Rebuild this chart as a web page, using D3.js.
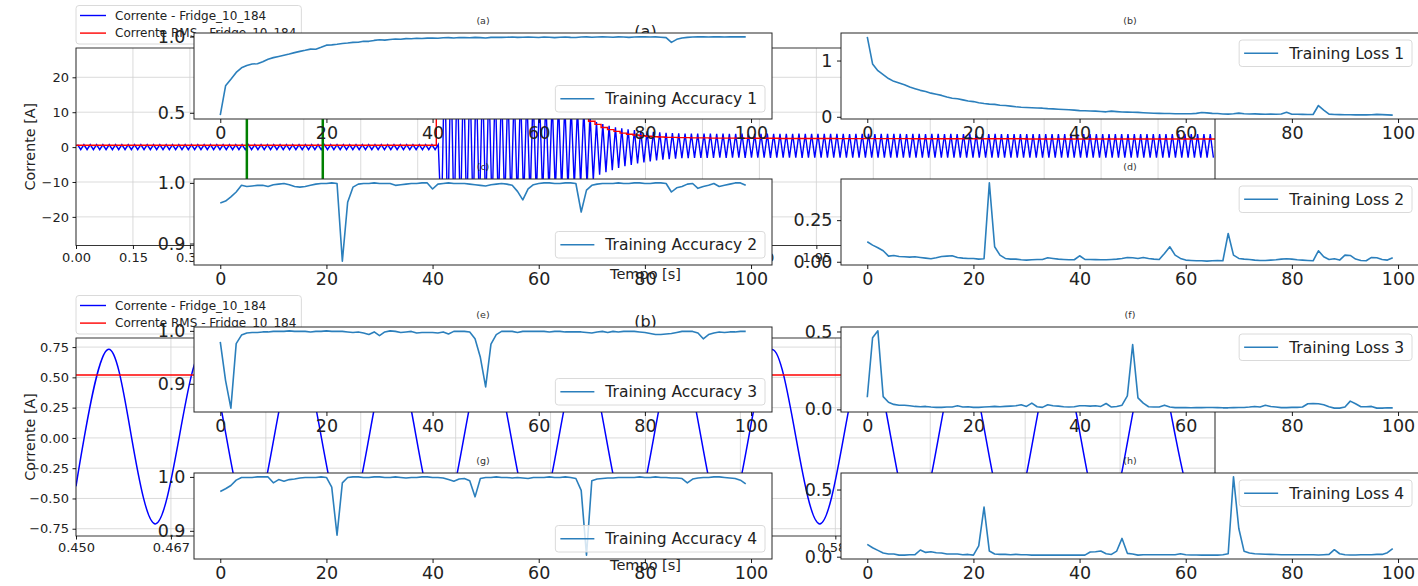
<!DOCTYPE html>
<html>
<head>
<meta charset="utf-8">
<script src="https://cdn.jsdelivr.net/npm/d3@7"></script>
<style>
  body { margin: 0; background: #fff; }
  svg  { display: block; font-family: "DejaVu Sans", sans-serif; }
</style>
</head>
<body>
<svg id="fig" width="1418" height="586"></svg>
<script>
/* ============================================================
   Fridge_10_184 current (background figure, panels a/b)
   with the training curves figure (panels a..h) laid on top
   ============================================================ */

// ── Data: background figure ─────────────────────────────────
const mainsHz = 60;

// peak and trough of every 60 Hz cycle, 0 .. 3 s
const fridgeCycleMax = [
  0.73,0.73,0.73,0.73,0.73,0.73,0.73,0.73,0.73,0.73,0.73,0.73,0.73,0.73,0.73,0.73,0.73,0.73,0.73,0.73,
  0.73,0.73,0.73,0.73,0.73,0.73,0.73,0.73,0.73,0.73,0.73,0.73,0.73,0.73,0.73,0.73,0.73,0.73,0.73,0.73,
  0.73,0.73,0.73,0.73,0.73,0.73,0.73,0.73,0.73,0.73,0.73,0.73,0.73,0.73,0.73,0.73,0.73,0.73,26,25,
  24,23,22,21,20,19,18,17.5,17,16.5,16,15.5,15,14.5,14,13.5,13,12.5,12,11.5,
  11,9,7.2,6.6,6.1,5.7,5.4,5.1,4.9,4.7,4.5,4.35,4.2,4.1,4.0,3.95,3.9,3.85,3.85,3.85,
  3.85,3.8,3.85,3.8,3.8,3.85,3.8,3.8,3.8,3.85,3.8,3.8,3.8,3.8,3.85,3.8,3.8,3.8,3.8,3.8,
  3.8,3.8,3.75,3.8,3.8,3.8,3.75,3.8,3.8,3.8,3.8,3.75,3.8,3.8,3.75,3.8,3.8,3.75,3.8,3.75,
  3.75,3.8,3.75,3.75,3.75,3.8,3.75,3.75,3.75,3.75,3.7,3.75,3.75,3.75,3.7,3.75,3.75,3.7,3.75,3.7,
  3.7,3.75,3.7,3.7,3.7,3.75,3.7,3.7,3.7,3.7,3.7,3.7,3.7,3.7,3.7,3.7,3.7,3.7,3.7,3.7
];
const fridgeCycleMin = [
  -0.73,-0.73,-0.73,-0.73,-0.73,-0.73,-0.73,-0.73,-0.73,-0.73,-0.73,-0.73,-0.73,-0.73,-0.73,-0.73,-0.73,-0.73,-0.73,-0.73,
  -0.73,-0.73,-0.73,-0.73,-0.73,-0.73,-0.73,-0.73,-0.73,-0.73,-0.73,-0.73,-0.73,-0.73,-0.73,-0.73,-0.73,-0.73,-0.73,-0.73,
  -0.73,-0.73,-0.73,-0.73,-0.73,-0.73,-0.73,-0.73,-0.73,-0.73,-0.73,-0.73,-0.73,-0.73,-0.73,-0.73,-0.73,-22,-24,-23,
  -22,-21,-20,-19,-18.5,-18,-17.5,-17,-16.5,-16,-15.5,-15,-14.5,-14,-13.5,-13,-12.5,-12,-11.5,-11,
  -10.5,-9.5,-7.9,-7.2,-6.6,-6.0,-5.5,-5.1,-4.7,-4.4,-4.1,-3.85,-3.6,-3.45,-3.3,-3.2,-3.15,-3.1,-3.1,-3.1,
  -3.1,-3.05,-3.1,-3.05,-3.05,-3.1,-3.05,-3.05,-3.05,-3.1,-3.05,-3.05,-3.05,-3.05,-3.1,-3.05,-3.05,-3.05,-3.05,-3.05,
  -3.05,-3.05,-3.05,-3.05,-3.0,-3.05,-3.05,-3.05,-3.05,-3.0,-3.05,-3.05,-3.05,-3.05,-3.0,-3.05,-3.05,-3.05,-3.0,-3.05,
  -3.05,-3.0,-3.05,-3.05,-3.0,-3.05,-3.0,-3.05,-3.0,-3.05,-3.0,-3.0,-3.05,-3.0,-3.0,-3.05,-3.0,-3.0,-3.0,-3.0,
  -3.0,-3.0,-3.05,-3.0,-3.0,-3.0,-3.0,-3.0,-3.0,-3.0,-3.0,-3.0,-3.0,-3.0,-3.0,-3.0,-3.0,-3.0,-3.0,-3.0
];

// RMS (step line)
const rmsTimes  = [0, 0.949, 1.0, 1.05, 1.1, 1.15, 1.2, 1.25, 1.3, 1.333, 1.35, 1.367, 1.383, 1.4, 1.417, 1.433,
                   1.45, 1.467, 1.483, 1.5, 1.517, 1.533, 1.55, 1.583, 1.617, 1.667, 1.75, 1.85, 2.0, 2.2, 2.5, 2.8, 3.0];
const rmsValues = [0.52, 17.5, 16.5, 15.5, 14.5, 13.5, 12.2, 10.8, 9.4, 8.4, 7.4, 6.5, 5.6, 5.0, 4.5, 4.0,
                   3.7, 3.45, 3.25, 3.1, 2.98, 2.88, 2.8, 2.72, 2.65, 2.58, 2.52, 2.47, 2.42, 2.38, 2.34, 2.3, 2.3];

// zoom window marked in green, shown in panel (b)
const zoomWindow = [0.45, 0.65];

// panel (b): alternating peak / trough, first peak time, value at both edges
const zoomFirstPeak = 0.4556;
const zoomExtrema = [0.73,-0.71,0.73,-0.72,0.73,-0.72,0.74,-0.72,0.73,-0.72,0.73,-0.72,
                     0.73,-0.72,0.73,-0.71,0.73,-0.72,0.73,-0.72,0.73,-0.72,0.73,-0.72];
const zoomEdgeValues = [-0.40, -0.39];
const zoomRms = 0.52;

// ticks
const mainTimeTicks    = [0,0.15,0.3,0.45,0.6,0.75,0.9,1.05,1.2,1.35,1.5,1.65,1.8,1.95,2.1,2.25,2.4,2.55,2.7,2.85,3.0];
const mainCurrentTicks = [-20, -10, 0, 10, 20];
const zoomTimeTicks    = [0.45,0.466667,0.483333,0.5,0.516667,0.533333,0.55,0.566667,0.583333,0.6,0.616667,0.633333,0.65];
const zoomCurrentTicks = [-0.75, -0.5, -0.25, 0, 0.25, 0.5, 0.75];

const legendLabels = ["Corrente - Fridge_10_184", "Corrente RMS - Fridge_10_184"];

// ── Data: training curves (100 epochs each) ─────────────────
const accuracy1 = [
  0.485,0.677,0.72,0.765,0.795,0.81,0.82,0.822,0.835,0.852,0.862,0.87,0.878,0.886,0.895,0.903,0.91,0.918,0.917,0.93,
  0.944,0.946,0.95,0.955,0.958,0.962,0.963,0.97,0.969,0.975,0.979,0.977,0.981,0.984,0.983,0.987,0.986,0.989,0.988,0.99,
  0.991,0.989,0.992,0.993,0.991,0.994,0.993,0.992,0.995,0.993,0.991,0.995,0.996,0.995,0.996,0.997,0.995,0.996,0.997,0.996,
  0.994,0.997,0.996,0.993,0.996,0.997,0.995,0.994,0.997,0.998,0.996,0.997,0.998,0.997,0.996,0.998,0.997,0.995,0.997,0.998,
  0.998,0.997,0.998,0.996,0.993,0.962,0.982,0.991,0.995,0.997,0.998,0.998,0.997,0.998,0.998,0.997,0.998,0.998,0.998,0.998
];
const accuracy2 = [
  0.967,0.97,0.977,0.985,0.996,0.994,0.995,0.996,0.996,0.994,0.997,0.998,0.999,0.997,0.994,0.993,0.994,0.996,0.998,0.999,
  0.999,1.0,0.999,0.871,0.968,0.993,0.998,0.999,0.999,1.0,0.999,0.999,0.999,0.996,0.997,0.998,0.999,0.999,1.0,1.0,
  0.99,0.998,0.999,1.0,0.999,0.999,0.999,0.998,0.997,0.996,0.995,0.997,0.998,0.999,0.998,0.996,0.986,0.972,0.99,0.997,
  0.999,1.0,1.0,0.999,0.999,1.0,1.0,0.999,0.952,0.988,0.996,0.998,0.999,0.999,0.999,1.0,0.999,0.999,1.0,1.0,
  0.999,0.999,1.0,1.0,0.999,0.985,0.992,0.994,0.998,0.999,0.991,0.994,0.996,0.999,0.994,0.996,0.998,1.0,1.0,0.996
];
const accuracy3 = [
  0.979,0.906,0.854,0.976,0.992,0.996,0.997,0.997,0.998,0.998,0.999,0.999,0.999,1.0,0.999,0.999,0.999,0.998,0.999,0.999,
  1.0,0.999,0.999,0.999,0.998,0.997,0.998,0.996,0.993,0.998,0.991,0.998,1.0,0.999,0.997,0.998,0.999,0.996,0.997,0.997,
  0.997,0.996,0.998,0.994,0.999,0.999,0.999,0.998,0.985,0.95,0.894,0.975,0.993,0.999,0.999,0.999,0.997,0.999,0.999,0.999,
  0.999,0.999,0.998,0.999,0.999,0.998,0.998,0.998,0.998,0.997,0.996,0.998,0.999,0.997,0.999,0.998,0.999,0.999,0.999,0.998,
  0.997,0.995,0.993,0.993,0.994,0.995,0.997,0.999,0.999,0.999,0.996,0.985,0.993,0.996,0.998,0.997,0.998,0.998,0.999,0.999
];
const accuracy4 = [
  0.973,0.978,0.984,0.994,0.999,0.999,0.999,1.0,1.0,1.0,0.989,0.995,0.992,0.995,0.996,0.998,0.999,0.999,0.999,1.0,
  0.999,0.981,0.892,0.989,0.999,1.0,1.0,0.999,0.999,1.0,1.0,0.999,0.999,1.0,0.999,0.998,0.999,0.999,1.0,1.0,
  0.999,0.999,0.998,0.995,0.992,0.996,0.997,0.993,0.963,0.997,0.999,0.999,1.0,0.999,0.999,0.998,0.999,0.998,0.997,0.999,
  0.999,0.999,1.0,0.999,0.999,1.0,0.999,0.997,0.975,0.855,0.993,0.996,0.997,0.998,0.998,0.999,0.999,0.999,0.999,1.0,
  0.999,0.999,1.0,0.999,0.999,0.998,0.998,0.997,0.989,0.996,0.998,0.999,0.999,1.0,1.0,0.999,0.998,0.997,0.994,0.987
];
const loss1 = [
  1.42,0.94,0.82,0.75,0.68,0.63,0.6,0.57,0.53,0.5,0.47,0.45,0.42,0.40,0.38,0.35,0.33,0.32,0.30,0.28,
  0.27,0.25,0.235,0.225,0.22,0.206,0.2,0.19,0.178,0.17,0.165,0.16,0.155,0.153,0.145,0.14,0.135,0.13,0.124,0.118,
  0.11,0.108,0.104,0.1,0.095,0.088,0.1,0.092,0.085,0.083,0.08,0.078,0.072,0.068,0.064,0.06,0.058,0.057,0.055,0.054,
  0.053,0.055,0.06,0.076,0.07,0.06,0.058,0.05,0.048,0.055,0.065,0.055,0.05,0.052,0.048,0.046,0.047,0.045,0.05,0.08,
  0.045,0.044,0.042,0.04,0.04,0.2,0.12,0.047,0.04,0.038,0.035,0.035,0.034,0.034,0.033,0.035,0.042,0.038,0.033,0.03
];
const loss2 = [
  0.12,0.10,0.084,0.066,0.034,0.038,0.032,0.03,0.028,0.03,0.026,0.022,0.018,0.024,0.032,0.034,0.036,0.026,0.022,0.02,
  0.02,0.016,0.018,0.474,0.09,0.04,0.02,0.016,0.016,0.012,0.01,0.012,0.014,0.014,0.024,0.02,0.016,0.014,0.012,0.012,
  0.036,0.014,0.014,0.013,0.012,0.012,0.014,0.016,0.02,0.026,0.024,0.02,0.026,0.02,0.016,0.014,0.05,0.09,0.04,0.02,
  0.01,0.008,0.006,0.006,0.004,0.006,0.008,0.006,0.17,0.04,0.02,0.016,0.014,0.01,0.008,0.008,0.01,0.012,0.016,0.018,
  0.016,0.012,0.01,0.008,0.006,0.066,0.03,0.014,0.018,0.01,0.04,0.038,0.016,0.008,0.006,0.026,0.024,0.014,0.01,0.024
];
const loss3 = [
  0.078,0.46,0.504,0.082,0.046,0.032,0.027,0.027,0.023,0.019,0.017,0.019,0.015,0.013,0.013,0.015,0.015,0.023,0.015,0.017,
  0.013,0.013,0.015,0.017,0.019,0.017,0.019,0.021,0.023,0.03,0.019,0.04,0.017,0.013,0.03,0.023,0.021,0.017,0.015,0.017,
  0.023,0.023,0.021,0.023,0.019,0.038,0.015,0.019,0.027,0.087,0.416,0.074,0.04,0.017,0.015,0.015,0.027,0.015,0.011,0.011,
  0.011,0.01,0.011,0.011,0.012,0.012,0.011,0.01,0.01,0.011,0.012,0.012,0.015,0.019,0.015,0.027,0.019,0.015,0.011,0.011,
  0.013,0.013,0.015,0.036,0.038,0.036,0.03,0.017,0.008,0.008,0.015,0.053,0.036,0.017,0.017,0.019,0.008,0.008,0.01,0.01
];
const loss4 = [
  0.092,0.067,0.047,0.027,0.02,0.02,0.012,0.012,0.015,0.015,0.05,0.032,0.037,0.03,0.027,0.02,0.02,0.02,0.015,0.017,
  0.012,0.08,0.369,0.042,0.02,0.017,0.017,0.015,0.017,0.015,0.015,0.012,0.012,0.012,0.012,0.012,0.012,0.012,0.012,0.012,
  0.012,0.012,0.035,0.037,0.042,0.022,0.017,0.042,0.136,0.025,0.02,0.012,0.015,0.015,0.015,0.015,0.015,0.015,0.015,0.022,
  0.015,0.013,0.013,0.012,0.012,0.012,0.012,0.015,0.022,0.594,0.21,0.04,0.027,0.022,0.02,0.018,0.017,0.016,0.015,0.015,
  0.015,0.014,0.014,0.015,0.014,0.013,0.015,0.017,0.052,0.022,0.015,0.013,0.013,0.014,0.015,0.015,0.017,0.017,0.03,0.06
];

const epochTicks    = [0, 20, 40, 60, 80, 100];
const accTicksA     = [0.5, 1.0];
const accTicks      = [0.9, 1.0];
const lossTicksA    = [0, 1];
const lossTicksB    = [0, 0.25];
const lossTicks     = [0, 0.5];

// ── Layout ──────────────────────────────────────────────────
const svg  = d3.select("#fig");
const defs = svg.append("defs");
const FONT = "DejaVu Sans, sans-serif";

const bgLeft = 76, bgRight = 1215;
const insetCols = [194, 841];
const insetW    = 578;
const insetRows = [[33, 119], [179, 265], [327, 412], [473, 559]];

// ── Helpers ─────────────────────────────────────────────────
function styleAxis(ax, size, color) {
  ax.select(".domain").remove();
  ax.attr("font-family", FONT).attr("font-size", size);
  ax.selectAll(".tick line").attr("stroke", "#000").attr("stroke-width", 0.9);
  ax.selectAll(".tick text").attr("fill", color);
}

function clipRect(id, x, y, w, h) {
  defs.append("clipPath").attr("id", id)
    .append("rect").attr("x", x).attr("y", y).attr("width", w).attr("height", h);
  return `url(#${id})`;
}

// ── Background figure ───────────────────────────────────────
const bgLayer = svg.append("g");

function fridgeWavePoints() {
  const pts = [];
  fridgeCycleMax.forEach((hi, i) => {
    pts.push([(i + 0.25) / mainsHz, hi]);
    pts.push([(i + 0.75) / mainsHz, fridgeCycleMin[i]]);
  });
  return pts;
}

function zoomWavePoints() {
  const q = 1 / (4 * mainsHz);
  const pts = [[zoomWindow[0], zoomEdgeValues[0]], [zoomFirstPeak - q, 0]];
  zoomExtrema.forEach((v, k) => {
    const t = zoomFirstPeak + 2 * q * k;
    pts.push([t, v]);
    if (t + q < zoomWindow[1]) pts.push([t + q, 0]);
  });
  pts.push([zoomWindow[1], zoomEdgeValues[1]]);
  return pts;
}

const bgPanels = [
  {
    top: 48, bottom: 245.5, xDomain: [0, 3.0], yDomain: [-28.2, 28.4],
    xTicks: mainTimeTicks, yTicks: mainCurrentTicks,
    xFmt: d3.format(".2f"), yFmt: d3.format("d"), title: "(a)", legendTop: 5.5,
    draw(g, x, y) {
      g.append("path").datum(fridgeWavePoints())
        .attr("d", d3.line().x(d => x(d[0])).y(d => y(d[1])))
        .attr("fill", "none").attr("stroke", "#0000ff").attr("stroke-width", 1.4);
      g.append("path").datum(d3.zip(rmsTimes, rmsValues))
        .attr("d", d3.line().x(d => x(d[0])).y(d => y(d[1])).curve(d3.curveStepAfter))
        .attr("fill", "none").attr("stroke", "#ff0000").attr("stroke-width", 1.4);
      g.selectAll(".zoom-mark").data(zoomWindow).join("line")
        .attr("x1", d => x(d)).attr("x2", d => x(d))
        .attr("y1", y.range()[0]).attr("y2", y.range()[1])
        .attr("stroke", "#008000").attr("stroke-width", 2.5);
    }
  },
  {
    top: 338, bottom: 536, xDomain: zoomWindow, yDomain: [-0.81, 0.825],
    xTicks: zoomTimeTicks, yTicks: zoomCurrentTicks,
    xFmt: d3.format(".3f"), yFmt: d3.format(".2f"), title: "(b)", legendTop: 295.5,
    draw(g, x, y) {
      g.append("path").datum(zoomWavePoints())
        .attr("d", d3.line().x(d => x(d[0])).y(d => y(d[1])).curve(d3.curveNatural))
        .attr("fill", "none").attr("stroke", "#0000ff").attr("stroke-width", 1.5);
      g.append("line")
        .attr("x1", x.range()[0]).attr("x2", x.range()[1])
        .attr("y1", y(zoomRms)).attr("y2", y(zoomRms))
        .attr("stroke", "#ff0000").attr("stroke-width", 1.4);
    }
  }
];

bgPanels.forEach((p, idx) => {
  const x = d3.scaleLinear().domain(p.xDomain).range([bgLeft, bgRight]);
  const y = d3.scaleLinear().domain(p.yDomain).range([p.bottom, p.top]);
  const g = bgLayer.append("g");

  // grid
  g.append("g").selectAll("line").data(p.xTicks).join("line")
    .attr("x1", d => x(d)).attr("x2", d => x(d)).attr("y1", p.top).attr("y2", p.bottom)
    .attr("stroke", "#d2d2d2").attr("stroke-width", 0.8);
  g.append("g").selectAll("line").data(p.yTicks).join("line")
    .attr("x1", bgLeft).attr("x2", bgRight).attr("y1", d => y(d)).attr("y2", d => y(d))
    .attr("stroke", "#d2d2d2").attr("stroke-width", 0.8);

  const plot = g.append("g")
    .attr("clip-path", clipRect("bgclip" + idx, bgLeft, p.top, bgRight - bgLeft, p.bottom - p.top));
  p.draw(plot, x, y);

  g.append("rect")
    .attr("x", bgLeft).attr("y", p.top).attr("width", bgRight - bgLeft).attr("height", p.bottom - p.top)
    .attr("fill", "none").attr("stroke", "#222").attr("stroke-width", 0.9);

  const ax = g.append("g").attr("transform", `translate(0,${p.bottom})`)
    .call(d3.axisBottom(x).tickValues(p.xTicks).tickFormat(p.xFmt).tickSize(3.5).tickPadding(3.5));
  styleAxis(ax, 13, "#222");
  const ay = g.append("g").attr("transform", `translate(${bgLeft},0)`)
    .call(d3.axisLeft(y).tickValues(p.yTicks).tickFormat(p.yFmt).tickSize(3.5).tickPadding(3.5));
  styleAxis(ay, 13, "#222");

  const midY = (p.top + p.bottom) / 2;
  g.append("text").attr("transform", `translate(35,${midY}) rotate(-90)`)
    .attr("text-anchor", "middle").attr("font-size", 14.3).attr("fill", "#222")
    .text("Corrente [A]");
  g.append("text").attr("x", 645.5).attr("y", p.bottom + 33.5)
    .attr("text-anchor", "middle").attr("font-size", 14.5).attr("fill", "#222")
    .text("Tempo [s]");
  g.append("text").attr("x", 645.5).attr("y", p.top - 11)
    .attr("text-anchor", "middle").attr("font-size", 16).attr("fill", "#222")
    .text(p.title);

  // legend above the axes
  const lg = g.append("g");
  const box = lg.append("rect");
  let maxW = 0;
  [["#0000ff", legendLabels[0]], ["#ff0000", legendLabels[1]]].forEach(([c, label], i) => {
    const cy = p.legendTop + 10 + i * 17.6;
    lg.append("line").attr("x1", 80).attr("x2", 106).attr("y1", cy).attr("y2", cy)
      .attr("stroke", c).attr("stroke-width", 1.4);
    const t = lg.append("text").attr("x", 115).attr("y", cy + 4.3)
      .attr("font-size", 12).attr("fill", "#222").text(label);
    maxW = Math.max(maxW, t.node().getComputedTextLength());
  });
  box.attr("x", bgLeft).attr("y", p.legendTop).attr("width", maxW + 44).attr("height", 38.5)
    .attr("rx", 3).attr("fill", "#fff").attr("fill-opacity", 0.8)
    .attr("stroke", "#d6d6d6").attr("stroke-width", 0.9);
});

// ── Training curves figure (on top) ─────────────────────────
const fgLayer = svg.append("g");

const insets = [
  { tag: "(a)", data: accuracy1, label: "Training Accuracy 1", col: 0, row: 0, ticks: accTicksA,  fmt: ".1f", legend: "lower" },
  { tag: "(b)", data: loss1,     label: "Training Loss 1",     col: 1, row: 0, ticks: lossTicksA, fmt: "d",   legend: "upper" },
  { tag: "(c)", data: accuracy2, label: "Training Accuracy 2", col: 0, row: 1, ticks: accTicks,   fmt: ".1f", legend: "lower" },
  { tag: "(d)", data: loss2,     label: "Training Loss 2",     col: 1, row: 1, ticks: lossTicksB, fmt: ".2f", legend: "upper" },
  { tag: "(e)", data: accuracy3, label: "Training Accuracy 3", col: 0, row: 2, ticks: accTicks,   fmt: ".1f", legend: "lower" },
  { tag: "(f)", data: loss3,     label: "Training Loss 3",     col: 1, row: 2, ticks: lossTicks,  fmt: ".1f", legend: "upper" },
  { tag: "(g)", data: accuracy4, label: "Training Accuracy 4", col: 0, row: 3, ticks: accTicks,   fmt: ".1f", legend: "lower" },
  { tag: "(h)", data: loss4,     label: "Training Loss 4",     col: 1, row: 3, ticks: lossTicks,  fmt: ".1f", legend: "upper" }
];

insets.forEach((p, idx) => {
  const x0 = insetCols[p.col], x1 = x0 + insetW;
  const [y0, y1] = insetRows[p.row];
  const n = p.data.length;

  // matplotlib-like 5 % margins
  const [lo, hi] = d3.extent(p.data);
  const padY = (hi - lo) * 0.05, padX = (n - 1) * 0.05;
  const x = d3.scaleLinear().domain([-padX, n - 1 + padX]).range([x0, x1]);
  const y = d3.scaleLinear().domain([lo - padY, hi + padY]).range([y1, y0]);

  const g = fgLayer.append("g");
  g.append("rect").attr("x", x0).attr("y", y0).attr("width", insetW).attr("height", y1 - y0)
    .attr("fill", "#fff");

  g.append("g").attr("clip-path", clipRect("inclip" + idx, x0, y0, insetW, y1 - y0))
    .append("path").datum(p.data)
    .attr("d", d3.line().x((d, i) => x(i)).y(d => y(d)))
    .attr("fill", "none").attr("stroke", "#2b7fbc").attr("stroke-width", 1.6)
    .attr("stroke-linejoin", "round");

  g.append("rect").attr("x", x0).attr("y", y0).attr("width", insetW).attr("height", y1 - y0)
    .attr("fill", "none").attr("stroke", "#262626").attr("stroke-width", 1);

  const ax = g.append("g").attr("transform", `translate(0,${y1})`)
    .call(d3.axisBottom(x).tickValues(epochTicks).tickFormat(d3.format("d")).tickSize(4).tickPadding(3.6));
  styleAxis(ax, 17.5, "#222");
  const ay = g.append("g").attr("transform", `translate(${x0},0)`)
    .call(d3.axisLeft(y).tickValues(p.ticks).tickFormat(d3.format(p.fmt)).tickSize(4).tickPadding(4.5));
  styleAxis(ay, 17.5, "#222");

  g.append("text").attr("x", (x0 + x1) / 2).attr("y", y0 - 9.5)
    .attr("text-anchor", "middle").attr("font-size", 9.5).attr("fill", "#333")
    .text(p.tag);

  // legend
  const lg = g.append("g");
  const box = lg.append("rect");
  const t = lg.append("text").attr("font-size", 15.5).attr("fill", "#222").text(p.label);
  const bw = t.node().getComputedTextLength() + 58, bh = 26.5;
  const bx = x1 - 7 - bw;
  const by = p.legend === "lower" ? y1 - 7 - bh : y0 + 7;
  box.attr("x", bx).attr("y", by).attr("width", bw).attr("height", bh).attr("rx", 3)
    .attr("fill", "#fff").attr("fill-opacity", 0.8).attr("stroke", "#d6d6d6").attr("stroke-width", 0.9);
  lg.append("line").attr("x1", bx + 5).attr("x2", bx + 39)
    .attr("y1", by + bh / 2).attr("y2", by + bh / 2)
    .attr("stroke", "#2b7fbc").attr("stroke-width", 1.6);
  t.attr("x", bx + 50).attr("y", by + bh / 2 + 5.5);
});
</script>
</body>
</html>
